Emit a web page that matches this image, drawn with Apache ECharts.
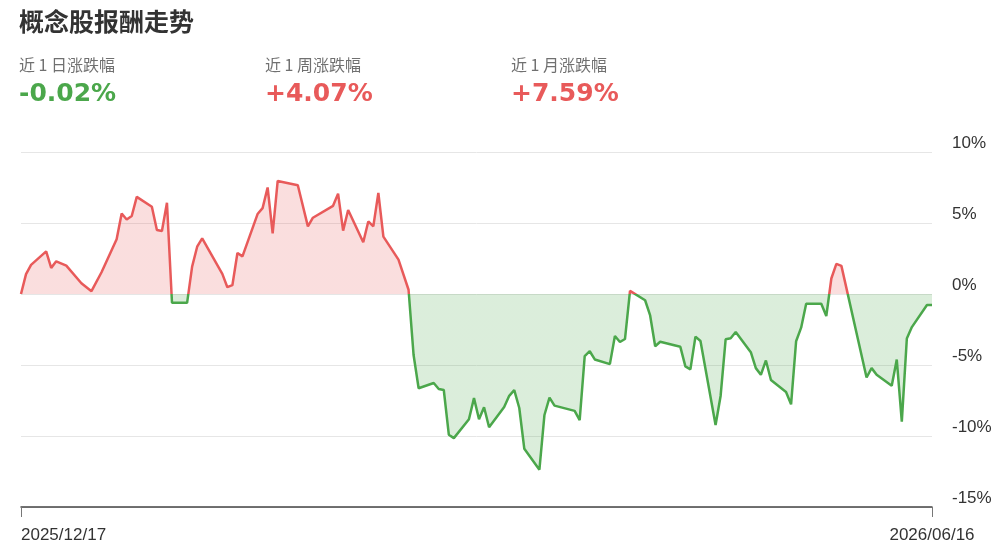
<!DOCTYPE html>
<html>
<head>
<meta charset="utf-8">
<title>概念股报酬走势</title>
<script src="https://cdn.jsdelivr.net/npm/echarts@6/dist/echarts.min.js"></script>
<style>
  html, body { margin: 0; padding: 0; background: #fff; }
  #chart { width: 1005px; height: 554px; }
</style>
</head>
<body>
<div id="chart"></div>
<script>
// ── Data ─────────────────────────────────────────────
const startDate = "2025/12/17";
const endDate = "2026/06/16";

const dates = [
  "2025/12/17", "2025/12/18", "2025/12/19", "2025/12/22", "2025/12/23", "2025/12/24",
  "2025/12/26", "2025/12/29", "2025/12/31", "2026/01/02", "2026/01/05", "2026/01/06",
  "2026/01/07", "2026/01/08", "2026/01/09", "2026/01/12", "2026/01/13", "2026/01/14",
  "2026/01/15", "2026/01/16", "2026/01/19", "2026/01/20", "2026/01/21", "2026/01/22",
  "2026/01/26", "2026/01/27", "2026/01/28", "2026/01/29", "2026/01/30", "2026/02/02",
  "2026/02/03", "2026/02/04", "2026/02/05", "2026/02/06", "2026/02/10", "2026/02/12",
  "2026/02/13", "2026/02/17", "2026/02/18", "2026/02/19", "2026/02/20", "2026/02/23",
  "2026/02/24", "2026/02/25", "2026/02/26", "2026/02/27", "2026/03/02", "2026/03/04",
  "2026/03/05", "2026/03/06", "2026/03/09", "2026/03/10", "2026/03/11", "2026/03/12",
  "2026/03/13", "2026/03/16", "2026/03/17", "2026/03/18", "2026/03/19", "2026/03/20",
  "2026/03/23", "2026/03/24", "2026/03/25", "2026/03/26", "2026/03/27", "2026/03/30",
  "2026/03/31", "2026/04/01", "2026/04/02", "2026/04/06", "2026/04/07", "2026/04/08",
  "2026/04/09", "2026/04/10", "2026/04/13", "2026/04/14", "2026/04/15", "2026/04/16",
  "2026/04/17", "2026/04/20", "2026/04/21", "2026/04/22", "2026/04/23", "2026/04/27",
  "2026/04/28", "2026/04/29", "2026/04/30", "2026/05/01", "2026/05/04", "2026/05/05",
  "2026/05/06", "2026/05/07", "2026/05/08", "2026/05/11", "2026/05/12", "2026/05/13",
  "2026/05/14", "2026/05/15", "2026/05/18", "2026/05/19", "2026/05/20", "2026/05/21",
  "2026/05/22", "2026/05/25", "2026/05/26", "2026/05/27", "2026/05/28", "2026/05/29",
  "2026/06/03", "2026/06/04", "2026/06/05", "2026/06/08", "2026/06/09", "2026/06/10",
  "2026/06/11", "2026/06/12", "2026/06/15", "2026/06/16"
];

const returns = [
  0.00, 1.40, 2.05, 3.00, 1.84, 2.30,
  2.00, 0.76, 0.20, 1.53, 3.85, 5.67,
  5.25, 5.49, 6.84, 6.14, 4.50, 4.43,
  6.42, -0.62, -0.62, 1.93, 3.33, 3.92,
  1.42, 0.48, 0.62, 2.89, 2.65, 5.63,
  6.05, 7.50, 4.27, 7.96, 7.66, 4.76,
  5.37, 6.21, 7.07, 4.46, 5.91, 3.64,
  5.11, 4.76, 7.12, 4.04, 2.42, 0.30,
  -4.30, -6.64, -6.27, -6.69, -6.76, -9.91,
  -10.15, -8.82, -7.33, -8.82, -7.98, -9.38,
  -7.96, -7.17, -6.77, -8.03, -10.90, -12.37,
  -8.52, -7.30, -7.86, -8.23, -8.88, -4.38,
  -4.03, -4.61, -4.94, -2.96, -3.38, -3.17,
  0.22, -0.44, -1.51, -3.68, -3.36, -3.72,
  -5.10, -5.31, -3.00, -3.31, -9.22, -7.18,
  -3.19, -3.12, -2.68, -4.10, -5.22, -5.69,
  -4.68, -6.06, -6.90, -7.77, -3.33, -2.37,
  -0.69, -0.69, -1.55, 1.09, 2.12, 1.98,
  -5.88, -5.22, -5.69, -6.46, -4.62, -8.99,
  -3.14, -2.33, -0.78, -0.78
];

const yTicks = [-15, -10, -5, 0, 5, 10];

const statLabels = ["近 1 日涨跌幅", "近 1 周涨跌幅", "近 1 月涨跌幅"];
const statValues = [-0.02, 4.07, 7.59];

// ── Helpers ──────────────────────────────────────────
const RED = "#e85a5a";
const GREEN = "#4ba74b";
const DAY = 86400000;
const yMin = yTicks[0];
const yMax = yTicks[yTicks.length - 1];

function toUtc(s) {
  const [y, m, d] = s.split("/").map(Number);
  return Date.UTC(y, m - 1, d);
}
const t0 = toUtc(startDate);
const dayOffset = s => Math.round((toUtc(s) - t0) / DAY);
const spanDays = dayOffset(endDate);

function offsetToDate(off) {
  const d = new Date(t0 + off * DAY);
  const p = n => String(n).padStart(2, "0");
  return `${d.getUTCFullYear()}/${p(d.getUTCMonth() + 1)}/${p(d.getUTCDate())}`;
}

const seriesData = dates.map((d, i) => [dayOffset(d), returns[i]]);

// header texts
const header = [{
  type: "text", x: 19, y: 21,
  style: { text: "概念股报酬走势", fill: "#333", verticalAlign: "middle",
    font: 'bold 25px "Noto Sans CJK SC", "Noto Sans", sans-serif' }
}];
statLabels.forEach((lbl, i) => {
  const v = statValues[i];
  const x = 19 + i * 246;
  header.push({
    type: "text", x, y: 65,
    style: { text: lbl, fill: "#707070", verticalAlign: "middle",
      font: '16px "Noto Sans CJK SC", "Noto Sans", sans-serif' }
  });
  header.push({
    type: "text", x, y: 94,
    style: { text: (v > 0 ? "+" : "") + v.toFixed(2) + "%", fill: v >= 0 ? RED : GREEN,
      verticalAlign: "middle", font: 'bold 25px "DejaVu Sans", sans-serif' }
  });
});

// ── Chart ────────────────────────────────────────────
const chart = echarts.init(document.getElementById("chart"), null, { renderer: "canvas" });

chart.setOption({
  animation: false,
  backgroundColor: "#fff",
  graphic: header,
  grid: { left: 21, right: 73, top: 152, bottom: 47 },
  xAxis: {
    type: "value",
    min: 0,
    max: spanDays,
    interval: spanDays,
    axisLine: { onZero: false, lineStyle: { color: "#444", width: 1.5 } },
    axisTick: { show: true, length: 10, lineStyle: { color: "#777" } },
    splitLine: { show: false },
    axisLabel: {
      margin: 20,
      color: "#333",
      fontSize: 17,
      fontFamily: '"Liberation Sans", Arial, sans-serif',
      alignMinLabel: "left",
      alignMaxLabel: "center",
      formatter: v => offsetToDate(v)
    }
  },
  yAxis: {
    type: "value",
    position: "right",
    min: yMin,
    max: yMax,
    interval: 5,
    axisLine: { show: false },
    axisTick: { show: false },
    splitLine: { lineStyle: { color: "#e6e6e6", width: 1 } },
    axisLabel: {
      margin: 20,
      color: "#333",
      fontSize: 17,
      verticalAlign: "bottom",
      fontFamily: '"Liberation Sans", Arial, sans-serif',
      formatter: "{value}%"
    }
  },
  visualMap: {
    show: false,
    type: "piecewise",
    dimension: 1,
    seriesIndex: 0,
    pieces: [
      { gt: 0, lte: yMax, color: RED },
      { gte: yMin, lte: 0, color: GREEN }
    ]
  },
  series: [{
    type: "line",
    data: seriesData,
    showSymbol: false,
    lineStyle: { width: 2.5 },
    areaStyle: { opacity: 0.2 }
  }]
});
</script>
</body>
</html>
